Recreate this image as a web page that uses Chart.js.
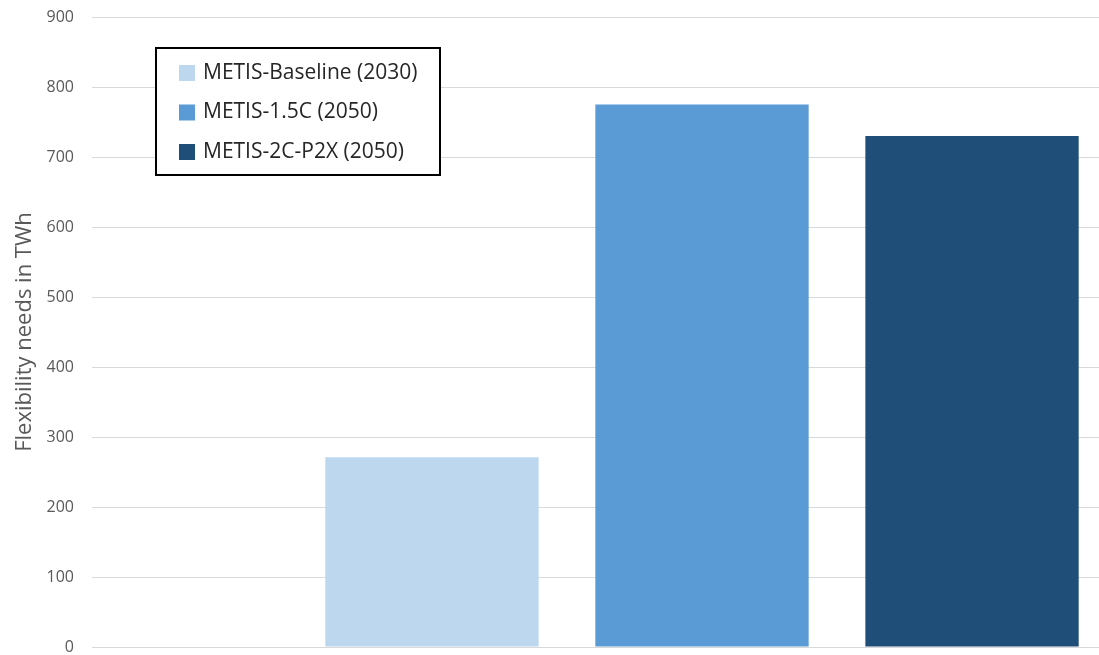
<!DOCTYPE html>
<html>
<head>
<meta charset="utf-8">
<script src="https://cdn.jsdelivr.net/npm/chart.js@4.4.1/dist/chart.umd.min.js"></script>
<style>
    html, body {margin: 0; padding: 0; background: #fff; overflow: hidden;}
    .graphContainer {position: relative; width: 1315px; height: 655px;}
</style>
</head>
<body>
<div class="graphContainer">
    <canvas id="myChart"></canvas>
</div>
<script>
const labels = [""];
const scenarios = ["METIS-Baseline (2030)", "METIS-1.5C (2050)", "METIS-2C-P2X (2050)"];
const needs = [271, 775, 730];
const colors = ["#BDD7EE", "#5B9BD5", "#1F4E79"];
const yTicks = {min: 0, max: 900, step: 100};

// legend box drawn inside the plot, like the original
const boxLegend = {
    id: "boxLegend",
    afterDraw(chart) {
        const ctx = chart.ctx;
        const x = 156, y = 48, w = 284, h = 127;
        ctx.save();
        ctx.fillStyle = "#fff";
        ctx.fillRect(x, y, w, h);
        ctx.strokeStyle = "#000";
        ctx.lineWidth = 2;
        ctx.strokeRect(x, y, w, h);
        ctx.font = "21px 'Open Sans', sans-serif";
        ctx.textBaseline = "middle";
        chart.data.datasets.forEach((ds, i) => {
            const cy = y + 25 + i * 39.5;
            ctx.fillStyle = ds.backgroundColor;
            ctx.fillRect(x + 23, cy - 8, 16, 16);
            ctx.fillStyle = "#262626";
            ctx.fillText(ds.label, x + 47, cy);
        });
        ctx.restore();
    }
};

new Chart(document.getElementById("myChart"), {
    type: "bar",
    data: {
        labels: labels,
        datasets: scenarios.map((s, i) => ({
            label: s,
            data: [needs[i]],
            backgroundColor: colors[i],
            borderWidth: 0,
            barPercentage: 0.79,
            categoryPercentage: 0.664
        }))
    },
    options: {
        responsive: true,
        maintainAspectRatio: false,
        animation: false,
        layout: {
            padding: {top: 17, left: 0, right: 3, bottom: 8}
        },
        plugins: {
            legend: {display: false},
            tooltip: {enabled: false}
        },
        scales: {
            x: {
                display: false
            },
            y: {
                min: yTicks.min,
                max: yTicks.max,
                afterFit: function(scale) {
                    scale.width = 92;
                    scale.paddingTop = 0;
                    scale.paddingBottom = 0;
                },
                border: {display: false},
                grid: {
                    color: "#D9D9D9",
                    lineWidth: 1,
                    drawTicks: false
                },
                ticks: {
                    stepSize: yTicks.step,
                    padding: 18,
                    color: "#595959",
                    font: {family: "'Open Sans', sans-serif", size: 16}
                },
                title: {
                    display: true,
                    text: "Flexibility needs in TWh",
                    color: "#595959",
                    font: {family: "'Open Sans', sans-serif", size: 22},
                    padding: {top: 12, bottom: 0}
                }
            }
        }
    },
    plugins: [boxLegend]
});
</script>
</body>
</html>
